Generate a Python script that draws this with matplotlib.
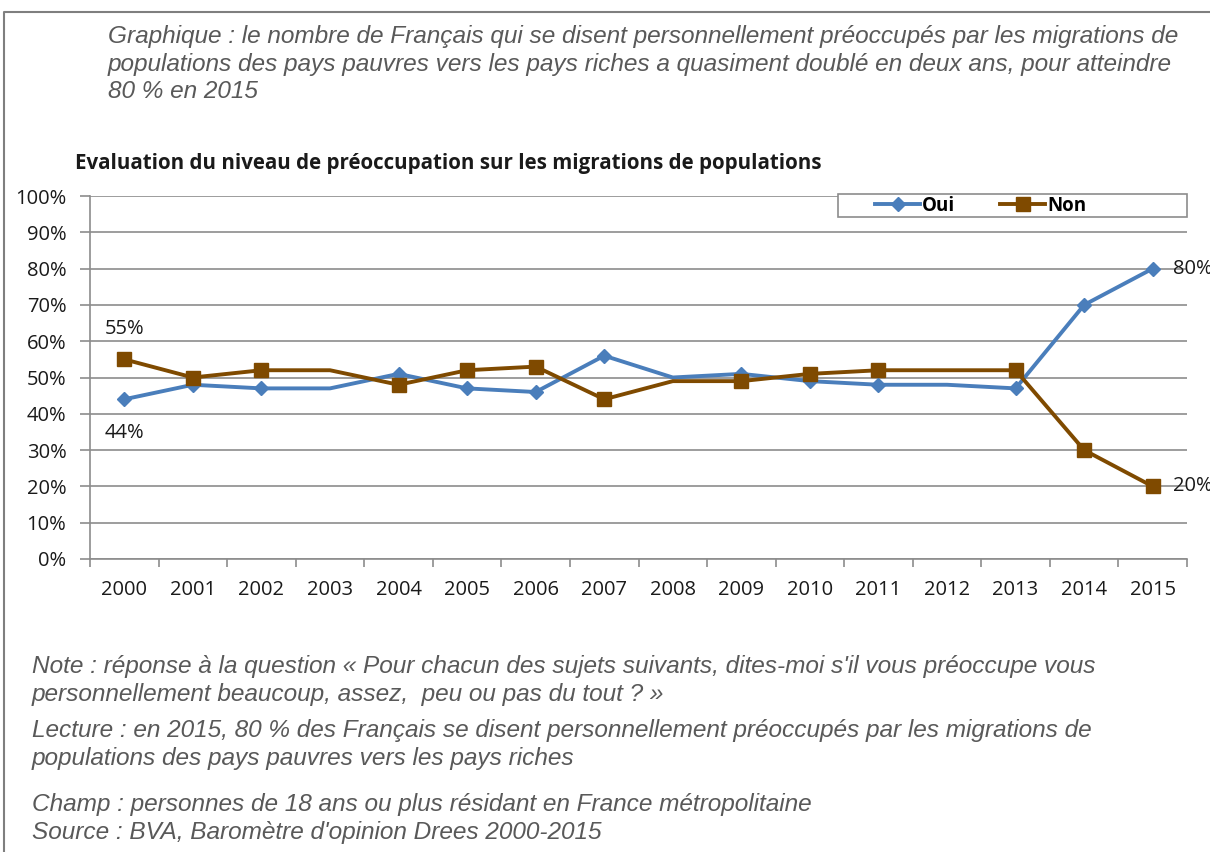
import numpy as np
import matplotlib.pyplot as plt
from matplotlib.lines import Line2D
from matplotlib.patches import Rectangle

# data (percent)
years = ['2000', '2001', '2002', '2003', '2004', '2005', '2006', '2007',
         '2008', '2009', '2010', '2011', '2012', '2013', '2014', '2015']
oui = [44, 48, 47, 47, 51, 47, 46, 56, 50, 51, 49, 48, 48, 47, 70, 80]
non = [55, 50, 52, 52, 48, 52, 53, 44, 49, 49, 51, 52, 52, 52, 30, 20]
y_ticks = [0, 10, 20, 30, 40, 50, 60, 70, 80, 90, 100]

# markers are not shown on these years in the original
no_marker = ['2003', '2008', '2012']

W, H = 1210, 852
fig = plt.figure(figsize=(W / 100, H / 100), dpi=100)

def fx(px):
    return px / W

def fy(py):
    return 1 - py / H

blue = '#4A7EBB'
brown = '#7F4A00'
grey_txt = '#595959'
grid_c = '#8C8C8C'
font = 'Open Sans'

ax = fig.add_axes([fx(90), fy(559), fx(1187 - 90), (559 - 196) / H])
x = np.arange(len(years))
marks = [i for i, yr in enumerate(years) if yr not in no_marker]

ax.plot(x, oui, color=blue, lw=2.8, marker='D', ms=6.8, markevery=marks,
        label='Oui', zorder=3)
ax.plot(x, non, color=brown, lw=2.8, marker='s', ms=9.5, markevery=marks,
        label='Non', zorder=4)

ax.set_xlim(-0.5, len(years) - 0.5)
ax.set_ylim(0, 100)
ax.set_yticks(y_ticks)
ax.set_yticklabels([f'{v}%' for v in y_ticks])
ax.set_xticks(x)
ax.set_xticklabels(years)
ax.set_xticks(np.arange(len(years) + 1) - 0.5, minor=True)
ax.tick_params(axis='x', which='major', length=0, pad=15)
ax.tick_params(axis='x', which='minor', length=6, color=grid_c, width=1.2)
ax.tick_params(axis='y', length=7, color=grid_c, width=1.2, pad=10)
for lab in ax.get_xticklabels() + ax.get_yticklabels():
    lab.set_fontfamily(font)
    lab.set_fontsize(14.5)
    lab.set_color('#1a1a1a')

ax.grid(axis='y', color=grid_c, lw=1.2)
ax.set_axisbelow(True)
for s in ['top', 'right']:
    ax.spines[s].set_visible(False)
for s in ['left', 'bottom']:
    ax.spines[s].set_color(grid_c)
    ax.spines[s].set_linewidth(1.2)

# data labels
lab_kw = dict(textcoords='offset pixels', fontsize=14.5, family=font,
              color='#1a1a1a', va='center')
ax.annotate('55%', (0, non[0]), xytext=(0, 30), ha='center', **lab_kw)
ax.annotate('44%', (0, oui[0]), xytext=(0, -34), ha='center', **lab_kw)
ax.annotate('80%', (15, oui[-1]), xytext=(20, 0), ha='left',
            annotation_clip=False, **lab_kw)
ax.annotate('20%', (15, non[-1]), xytext=(20, 0), ha='left',
            annotation_clip=False, **lab_kw)

# legend box
fig.add_artist(Rectangle((fx(838), fy(217)), fx(1187 - 838), (217 - 194) / H,
                         transform=fig.transFigure, facecolor='white',
                         edgecolor=grid_c, lw=1.2, zorder=5))
leg = fig.legend(handles=ax.get_lines(), loc='center left',
                 bbox_to_anchor=(fx(866), fy(206)), ncol=2, frameon=False,
                 handlelength=2.4, handletextpad=0.1, columnspacing=2.4,
                 borderpad=0, prop=dict(family=font, weight='bold', size=13.5))
leg.set_zorder(6)

# chart title
fig.text(fx(75), fy(163), 'Evaluation du niveau de préoccupation sur les migrations de populations',
         family=font, weight='bold', fontsize=14.8, color='#1a1a1a', va='center')

# caption above
cap_kw = dict(family='Liberation Sans', style='italic', fontsize=17.6,
              color=grey_txt, va='center')
top_lines = [
    'Graphique : le nombre de Français qui se disent personnellement préoccupés par les migrations de',
    'populations des pays pauvres vers les pays riches a quasiment doublé en deux ans, pour atteindre',
    '80 % en 2015',
]
for line, py in zip(top_lines, [37, 65, 92]):
    fig.text(fx(108), fy(py), line, **cap_kw)

bottom_lines = [
    ('Note : réponse à la question « Pour chacun des sujets suivants, dites-moi s\'il vous préoccupe vous', 666),
    ('personnellement beaucoup, assez,  peu ou pas du tout ? »', 694),
    ('Lecture : en 2015, 80 % des Français se disent personnellement préoccupés par les migrations de', 730),
    ('populations des pays pauvres vers les pays riches', 759),
    ('Champ : personnes de 18 ans ou plus résidant en France métropolitaine', 804),
    ('Source : BVA, Baromètre d\'opinion Drees 2000-2015', 832),
]
for line, py in bottom_lines:
    fig.text(fx(32), fy(py), line, **cap_kw)

# outer frame (left and top only)
fig.add_artist(Line2D([fx(4), fx(4), 1], [0, fy(12), fy(12)],
                      color='#7f7f7f', lw=1.5, transform=fig.transFigure))

fig.savefig('out.png', dpi=100)
